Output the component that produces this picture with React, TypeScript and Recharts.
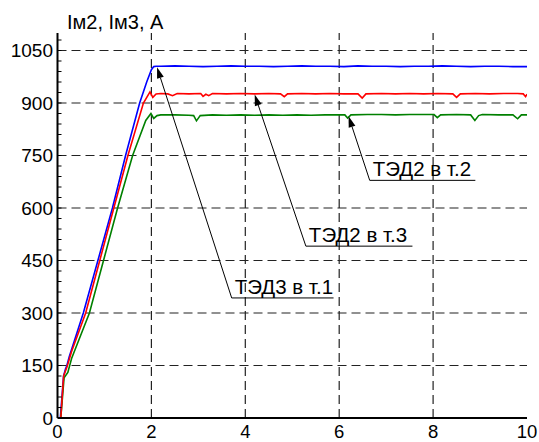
import { LineChart, Line, XAxis, YAxis, ReferenceLine } from 'recharts';

const FONT = '"Liberation Sans", Arial, sans-serif';

const xTicks = [0, 2, 4, 6, 8, 10];
const xGrid = [2, 4, 6, 8];
const yGrid = [150, 300, 450, 600, 750, 900, 1050];
// minor ticks every 30, labels only on the multiples of 150
const yTicks = [0, 30, 60, 90, 120, 150, 180, 210, 240, 270, 300, 330, 360, 390, 420, 450, 480, 510, 540, 570, 600,
  630, 660, 690, 720, 750, 780, 810, 840, 870, 900, 930, 960, 990, 1020, 1050, 1080];

// ТЭД3 в т.1
const blue: [number, number][] = [
  [0, 0], [0.06, 0], [0.13, 120], [0.17, 140], [0.2, 150], [0.25, 175], [0.55, 300], [0.85, 445], [1.17, 600],
  [1.45, 750], [1.75, 900], [1.9, 960], [2.0, 995], [2.05, 1004], [2.1, 1005],
  [2.2, 1005], [2.5, 1006], [2.8, 1005], [3.1, 1004], [3.4, 1005], [3.7, 1006], [4.0, 1005], [4.3, 1005],
  [4.6, 1004], [4.9, 1005], [5.2, 1006], [5.5, 1005], [5.8, 1005], [6.1, 1004], [6.4, 1006], [6.7, 1005],
  [7.0, 1005], [7.3, 1004], [7.6, 1005], [7.9, 1005], [8.2, 1006], [8.5, 1005], [8.8, 1004], [9.1, 1005],
  [9.4, 1005], [9.7, 1004], [10, 1004],
];

// ТЭД2 в т.3
const red: [number, number][] = [
  [0, 0], [0.07, 0], [0.13, 120], [0.2, 145], [0.3, 190], [0.6, 300], [0.9, 450], [1.2, 600], [1.5, 750],
  [1.83, 900], [1.97, 932], [2.03, 916], [2.1, 926],
  [2.2, 927], [2.35, 926], [2.45, 921], [2.55, 927], [2.8, 926], [3.05, 927], [3.1, 919], [3.16, 925],
  [3.22, 921], [3.3, 927], [3.6, 926], [3.9, 927], [4.2, 926], [4.5, 927], [4.75, 926], [4.83, 918],
  [4.9, 926], [5.2, 927], [5.5, 926], [5.8, 927], [6.1, 926], [6.4, 926], [6.49, 914], [6.57, 926],
  [6.9, 927], [7.2, 926], [7.5, 927], [7.8, 926], [8.1, 927], [8.42, 926], [8.5, 916], [8.58, 926],
  [8.9, 927], [9.2, 926], [9.5, 927], [9.8, 927], [9.92, 926], [9.97, 918], [10, 925],
];

// ТЭД2 в т.2
const green: [number, number][] = [
  [0, 0], [0.07, 0], [0.14, 115], [0.22, 130], [0.3, 170], [0.68, 300], [0.98, 450], [1.28, 600], [1.6, 750],
  [1.88, 850], [1.99, 870], [2.05, 856], [2.12, 864],
  [2.2, 866], [2.5, 866], [2.8, 865], [2.9, 864], [2.96, 849], [3.04, 864], [3.3, 866], [3.6, 865],
  [3.9, 866], [4.2, 865], [4.5, 866], [4.8, 865], [5.1, 866], [5.4, 865], [5.7, 866], [6.0, 866],
  [6.12, 866], [6.18, 857], [6.25, 866], [6.6, 867], [6.9, 867], [7.2, 866], [7.5, 867], [7.8, 867],
  [8.02, 867], [8.09, 858], [8.16, 866], [8.5, 867], [8.8, 866], [8.89, 850], [8.97, 864], [9.05, 867],
  [9.4, 866], [9.7, 866], [9.8, 855], [9.88, 866], [10, 866],
];

const notes = [
  { text: 'ТЭД3 в т.1', t1: 3.71, t2: 5.88, v: 343, tipT: 2.12, tipV: 1002 },
  { text: 'ТЭД2 в т.3', t1: 5.29, t2: 7.56, v: 491, tipT: 4.2, tipV: 924 },
  { text: 'ТЭД2 в т.2', t1: 6.65, t2: 8.9, v: 679, tipT: 6.2, tipV: 862 },
];

const toRows = (arr: [number, number][]) => arr.map(([t, v]) => ({ t, v }));

const LeftTick = (props: any) => {
  const { x, y, payload } = props;
  const val = payload.value;
  return (
    <g>
      {val > 0 && <line x1={x} x2={x + 4} y1={y} y2={y} stroke="#000" strokeWidth={1} />}
      {val % 150 === 0 && (
        <text x={x - 4.5} y={y} dy="0.355em" textAnchor="end" fontSize={19} fill="#000" fontFamily={FONT}>
          {val}
        </text>
      )}
    </g>
  );
};

const RightTick = (props: any) => {
  const { x, y, payload } = props;
  if (payload.value <= 0) return <g />;
  return <line x1={x} x2={x - 4} y1={y} y2={y} stroke="#000" strokeWidth={1} />;
};

const Arrow = (props: any) => {
  const { x1, y1, x2, y2 } = props;
  const ang = Math.atan2(y2 - y1, x2 - x1);
  const len = 11;
  const w = 3.5;
  const bx = x2 - len * Math.cos(ang);
  const by = y2 - len * Math.sin(ang);
  const px = -Math.sin(ang) * w;
  const py = Math.cos(ang) * w;
  return (
    <g>
      <line x1={x1} y1={y1} x2={bx} y2={by} stroke="#000" strokeWidth={1} />
      <polygon points={`${x2},${y2} ${bx + px},${by + py} ${bx - px},${by - py}`} fill="#000" />
    </g>
  );
};

const underline = (text: string) => (props: any) => {
  const { x1, y1, x2, y2 } = props;
  return (
    <g>
      <line x1={x1} y1={y1} x2={x2} y2={y2} stroke="#000" strokeWidth={1} />
      <text x={x1 + 3} y={y1 - 4} fontSize={20.5} fill="#000" fontFamily={FONT}>
        {text}
      </text>
    </g>
  );
};

export default function App() {
  return (
    <div style={{ position: 'absolute', left: 0, top: 0, width: 539, height: 442, background: '#fff' }}>
      <LineChart
        width={539}
        height={442}
        margin={{ top: 33, right: 12, bottom: 0, left: 7.5 }}
        style={{ fontFamily: FONT }}
      >
        <XAxis
          dataKey="t"
          type="number"
          domain={[0, 10]}
          ticks={xTicks}
          height={24}
          tickLine={false}
          tickSize={0}
          tickMargin={7}
          axisLine={{ stroke: '#000', strokeWidth: 2 }}
          tick={{ fontSize: 18.5, fill: '#000', fontFamily: FONT }}
          allowDataOverflow
        />
        <XAxis
          xAxisId="top"
          orientation="top"
          type="number"
          domain={[0, 10]}
          height={0}
          tick={false}
          tickLine={false}
          axisLine={{ stroke: '#000', strokeWidth: 2 }}
        />
        <YAxis
          type="number"
          domain={[0, 1100]}
          ticks={yTicks}
          width={50}
          tickLine={false}
          tickSize={0}
          tickMargin={0}
          interval={0}
          axisLine={{ stroke: '#000', strokeWidth: 2 }}
          tick={<LeftTick />}
          allowDataOverflow
        />
        <YAxis
          yAxisId="right"
          orientation="right"
          type="number"
          domain={[0, 1100]}
          ticks={yTicks}
          width={0}
          tickLine={false}
          tickSize={0}
          tickMargin={0}
          interval={0}
          axisLine={{ stroke: '#000', strokeWidth: 2 }}
          tick={<RightTick />}
        />
        {xGrid.map((g) => (
          <ReferenceLine key={`vx${g}`} x={g} stroke="#222" strokeWidth={1.2} strokeDasharray="9 5" />
        ))}
        {yGrid.map((g) => (
          <ReferenceLine key={`hy${g}`} y={g} stroke="#222" strokeWidth={1.2} strokeDasharray="9 5" />
        ))}
        <Line data={toRows(blue)} dataKey="v" stroke="#0000ff" strokeWidth={1.6} dot={false} isAnimationActive={false} />
        <Line data={toRows(green)} dataKey="v" stroke="#008000" strokeWidth={1.6} dot={false} isAnimationActive={false} />
        <Line data={toRows(red)} dataKey="v" stroke="#ff0000" strokeWidth={1.6} dot={false} isAnimationActive={false} />
        {notes.map((n) => (
          <ReferenceLine
            key={`a${n.text}`}
            segment={[{ x: n.t1, y: n.v }, { x: n.tipT, y: n.tipV }]}
            shape={Arrow}
          />
        ))}
        {notes.map((n) => (
          <ReferenceLine
            key={`u${n.text}`}
            segment={[{ x: n.t1, y: n.v }, { x: n.t2, y: n.v }]}
            shape={underline(n.text)}
          />
        ))}
      </LineChart>
      <svg width={539} height={40} style={{ position: 'absolute', left: 0, top: 0 }}>
        <text x={67} y={29} fontSize={20} fill="#000" fontFamily={FONT}>
          Iм2, Iм3, A
        </text>
      </svg>
    </div>
  );
}
